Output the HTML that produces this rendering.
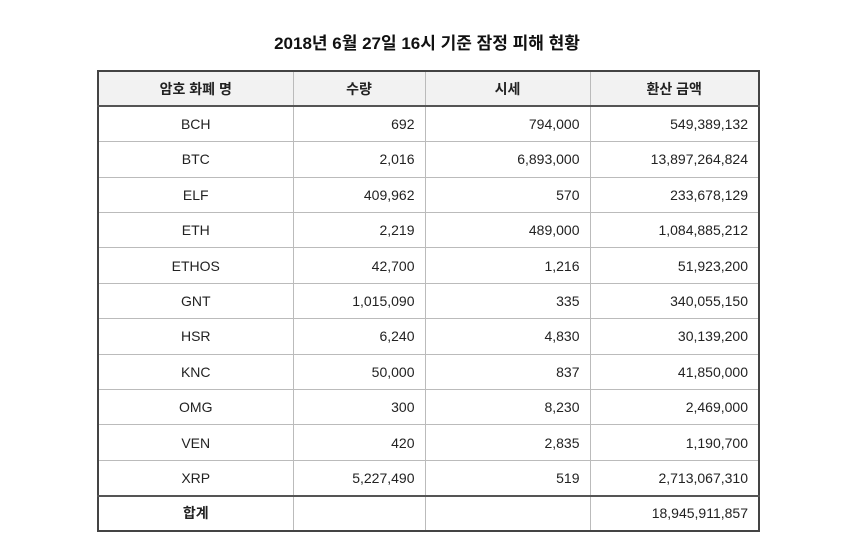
<!DOCTYPE html>
<html><head><meta charset="utf-8"><style>
body{margin:0;width:854px;height:557px;background:#fff;font-family:"Liberation Sans","Noto Sans CJK KR",sans-serif;color:#222;position:relative;overflow:hidden}
#title{position:absolute;left:0;width:854px;top:29px;text-align:center;font-size:17px;font-weight:bold;color:#111}
table{position:absolute;left:97px;top:70px;border-collapse:collapse;border:2px solid #444;font-size:14px}
td,th{border:1px solid #bbb;height:35.4px;padding:0 10px;box-sizing:border-box}
th{background:#f2f2f2;font-weight:bold;text-align:center;border-bottom:2px solid #555}
td.c{text-align:center}td.r{text-align:right}
tr.total td{border-top:2px solid #555}
</style></head><body>
<div id="title">2018년 6월 27일 16시 기준 잠정 피해 현황</div>
<table>
<colgroup><col style="width:195px"><col style="width:132px"><col style="width:165px"><col style="width:169px"></colgroup>
<tr><th>암호 화폐 명</th><th>수량</th><th>시세</th><th>환산 금액</th></tr>
<tr><td class="c">BCH</td><td class="r">692</td><td class="r">794,000</td><td class="r">549,389,132</td></tr>
<tr><td class="c">BTC</td><td class="r">2,016</td><td class="r">6,893,000</td><td class="r">13,897,264,824</td></tr>
<tr><td class="c">ELF</td><td class="r">409,962</td><td class="r">570</td><td class="r">233,678,129</td></tr>
<tr><td class="c">ETH</td><td class="r">2,219</td><td class="r">489,000</td><td class="r">1,084,885,212</td></tr>
<tr><td class="c">ETHOS</td><td class="r">42,700</td><td class="r">1,216</td><td class="r">51,923,200</td></tr>
<tr><td class="c">GNT</td><td class="r">1,015,090</td><td class="r">335</td><td class="r">340,055,150</td></tr>
<tr><td class="c">HSR</td><td class="r">6,240</td><td class="r">4,830</td><td class="r">30,139,200</td></tr>
<tr><td class="c">KNC</td><td class="r">50,000</td><td class="r">837</td><td class="r">41,850,000</td></tr>
<tr><td class="c">OMG</td><td class="r">300</td><td class="r">8,230</td><td class="r">2,469,000</td></tr>
<tr><td class="c">VEN</td><td class="r">420</td><td class="r">2,835</td><td class="r">1,190,700</td></tr>
<tr><td class="c">XRP</td><td class="r">5,227,490</td><td class="r">519</td><td class="r">2,713,067,310</td></tr>
<tr class="total"><td class="c" style="font-weight:bold">합계</td><td></td><td></td><td class="r">18,945,911,857</td></tr>
</table>
</body></html>
